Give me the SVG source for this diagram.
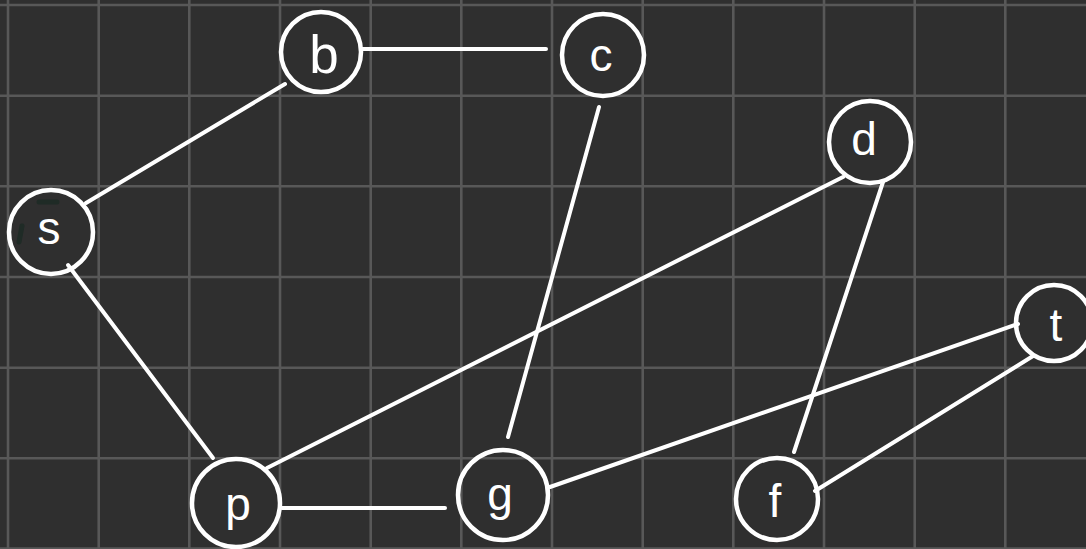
<svg xmlns="http://www.w3.org/2000/svg" width="1086" height="549" viewBox="0 0 1086 549">
  <style>
    .grid line { stroke: #585858; stroke-width: 2.6; }
    .node circle { fill: none; stroke: #ffffff; stroke-width: 4.5; }
    .node text { fill: #ffffff; font-family: "Liberation Sans", Arial, sans-serif; font-size: 46px; text-anchor: middle; }
    #edges line { stroke: #ffffff; stroke-width: 4; stroke-linecap: round; }
    .smudge { stroke: #1f2b26; stroke-width: 5; stroke-linecap: round; fill: none; }
  </style>

  <!-- chalkboard background -->
  <rect width="1086" height="549" fill="#2f2f2f"/>
  <g class="grid">
    <line x1="8" y1="0" x2="8" y2="549"/>
    <line x1="98.7" y1="0" x2="98.7" y2="549"/>
    <line x1="189.3" y1="0" x2="189.3" y2="549"/>
    <line x1="280" y1="0" x2="280" y2="549"/>
    <line x1="370.7" y1="0" x2="370.7" y2="549"/>
    <line x1="461.3" y1="0" x2="461.3" y2="549"/>
    <line x1="552" y1="0" x2="552" y2="549"/>
    <line x1="642.7" y1="0" x2="642.7" y2="549"/>
    <line x1="733.3" y1="0" x2="733.3" y2="549"/>
    <line x1="824" y1="0" x2="824" y2="549"/>
    <line x1="914.7" y1="0" x2="914.7" y2="549"/>
    <line x1="1005.3" y1="0" x2="1005.3" y2="549"/>
    <line x1="0" y1="5" x2="1086" y2="5"/>
    <line x1="0" y1="95.7" x2="1086" y2="95.7"/>
    <line x1="0" y1="186.3" x2="1086" y2="186.3"/>
    <line x1="0" y1="277" x2="1086" y2="277"/>
    <line x1="0" y1="367.7" x2="1086" y2="367.7"/>
    <line x1="0" y1="458.3" x2="1086" y2="458.3"/>
    <line x1="0" y1="548.5" x2="1086" y2="548.5"/>
  </g>

  <!-- faint chalk smudges -->
  <path class="smudge" d="M39 202H57M22 226L19 242"/>

  <!-- connectors -->
  <g id="edges">
    <line x1="362" y1="49" x2="546" y2="49"/>
    <line x1="285" y1="84" x2="86" y2="203"/>
    <line x1="68" y1="265" x2="213" y2="458"/>
    <line x1="267" y1="468" x2="843" y2="177"/>
    <line x1="282" y1="508" x2="445" y2="508"/>
    <line x1="599" y1="107" x2="508" y2="437"/>
    <line x1="883" y1="182" x2="794" y2="452"/>
    <line x1="550" y1="487" x2="1018" y2="324"/>
    <line x1="815" y1="491" x2="1033" y2="356"/>
  </g>

  <!-- nodes -->
  <g id="node-b" class="node">
    <circle cx="321" cy="52" r="40"/>
    <text x="324" y="73" style="font-size:53px">b</text>
  </g>
  <g id="node-c" class="node">
    <circle cx="603" cy="55" r="41"/>
    <text x="601" y="71">c</text>
  </g>
  <g id="node-s" class="node">
    <circle cx="51" cy="232" r="42"/>
    <text x="49" y="244">s</text>
  </g>
  <g id="node-p" class="node">
    <circle cx="236" cy="503" r="44"/>
    <text x="238" y="520">p</text>
  </g>
  <g id="node-g" class="node">
    <circle cx="503" cy="495" r="45"/>
    <text x="500" y="510">g</text>
  </g>
  <g id="node-f" class="node">
    <circle cx="777" cy="499" r="41"/>
    <text x="775" y="517">f</text>
  </g>
  <g id="node-d" class="node">
    <circle cx="870" cy="142" r="41"/>
    <text x="864" y="155">d</text>
  </g>
  <g id="node-t" class="node">
    <circle cx="1054" cy="323" r="38"/>
    <text x="1056" y="341">t</text>
  </g>
</svg>
